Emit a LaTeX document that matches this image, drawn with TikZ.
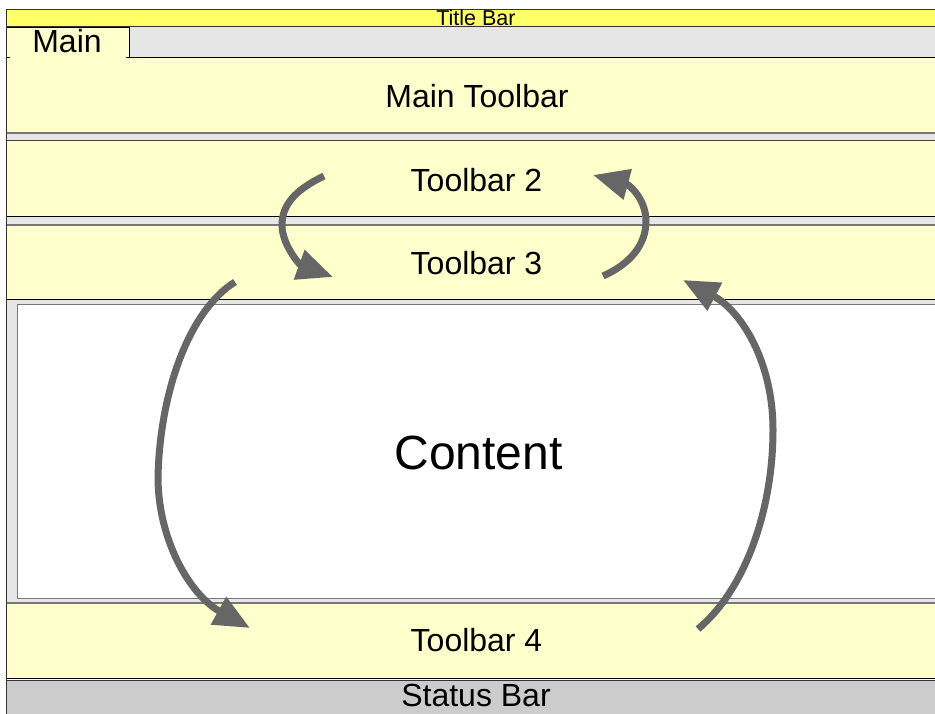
\documentclass[tikz,border=0pt]{standalone}
\usepackage{fontspec}
\setmainfont{Liberation Sans}
\usetikzlibrary{arrows.meta}
\definecolor{titleyel}{HTML}{FFFF66}
\definecolor{paleyel}{HTML}{FFFFCC}
\definecolor{sepgray}{HTML}{E6E6E6}
\definecolor{statgray}{HTML}{CCCCCC}
\definecolor{arrgray}{HTML}{666666}
\definecolor{edgegray}{HTML}{777777}
\tikzset{
  band/.style={line width=1pt, draw=black},
  lbl/.style={anchor=base, inner sep=0pt, font=\fontsize{32}{38}\selectfont},
  flow/.style={draw=arrgray, line width=7pt, -{Triangle[length=36pt,width=30pt]}},
}
\begin{document}
\begin{tikzpicture}[x=1pt,y=-1pt]
\useasboundingbox (0,0) rectangle (935,714);
\fill[white] (0,0) rectangle (935,714);
% title bar
\filldraw[fill=titleyel, draw=black!80, line width=1pt] (6,10) rectangle (945,27);
% tab strip
\fill[sepgray] (6,27.5) rectangle (945,58);
\fill[paleyel] (6,28) rectangle (129,58);
\draw[line width=1pt] (6,58) -- (10,58);
\draw[line width=1pt] (6,28) -- (129,28) -- (129,57);
\draw[line width=1pt] (126,58) -- (945,58);
% main toolbar
\fill[paleyel] (6,58.5) rectangle (945,133);
\draw[edgegray, line width=1.2pt] (6,133) -- (945,133);
\fill[sepgray] (6,133.6) rectangle (945,141);
\draw[black!75, line width=1pt] (6,141) -- (945,141);
% toolbar 2
\fill[paleyel] (6,141.5) rectangle (945,217);
\draw[line width=1pt] (6,217) -- (945,217);
\fill[sepgray] (6,217.5) rectangle (945,225);
\draw[edgegray, line width=1.2pt] (6,225) -- (945,225);
% toolbar 3
\fill[paleyel] (6,225.6) rectangle (945,300);
\draw[line width=1pt] (6,300) -- (945,300);
% content
\fill[sepgray] (6,300.5) rectangle (945,603);
\filldraw[fill=white, draw=edgegray, line width=1pt] (17,305) rectangle (945,598);
\draw[edgegray, line width=1.2pt] (6,603) -- (945,603);
% toolbar 4
\fill[paleyel] (6,603.6) rectangle (945,678);
\draw[line width=1pt] (6,678) -- (945,678);
% status bar
\fill[statgray] (6,680.5) rectangle (945,714);
\draw[black!80, line width=1pt] (6,680.5) -- (945,680.5);
% left frame
\draw[black!80, line width=1pt] (6,10) -- (6,714);
% labels
\node[lbl, font=\fontsize{21.5}{26}\selectfont] (title) at (476,25.5) {Title Bar};
\node[lbl] (tab) at (67,53) {Main};
\node[lbl] (tb1) at (477,108) {Main Toolbar};
\node[lbl] (tb2) at (476.5,192) {Toolbar 2};
\node[lbl] (tb3) at (476.5,275) {Toolbar 3};
\node[lbl, font=\fontsize{48}{56}\selectfont] (content) at (478.5,469) {Content};
\node[lbl] (tb4) at (476.5,651) {Toolbar 4};
\node[lbl] (status) at (476,706.5) {Status Bar};
% arrow end points
\coordinate (a1s) at (324,176);
\coordinate (a1m) at (282,225);
\coordinate (a1e) at (333,277);
\coordinate (a2s) at (603,276);
\coordinate (a2m) at (646,221);
\coordinate (a2e) at (593,175);
\coordinate (a3s) at (235,282);
\coordinate (a3m) at (158,477);
\coordinate (a3e) at (250,628);
\coordinate (a4s) at (698,629);
\coordinate (a4m) at (773,430);
\coordinate (a4e) at (683,280);
% arrows
\draw[flow] (a1s) .. controls (295,190) and (282,205) .. (a1m)
            .. controls (282,245) and (300,265) .. (a1e);
\draw[flow] (a2s) .. controls (630,264) and (646,245) .. (a2m)
            .. controls (646,200) and (630,185) .. (a2e);
\draw[flow] (a3s) .. controls (190,310) and (160,390) .. (a3m)
            .. controls (158,540) and (190,595) .. (a3e);
\draw[flow] (a4s) .. controls (745,590) and (773,510) .. (a4m)
            .. controls (773,360) and (740,310) .. (a4e);
\end{tikzpicture}
\end{document}
